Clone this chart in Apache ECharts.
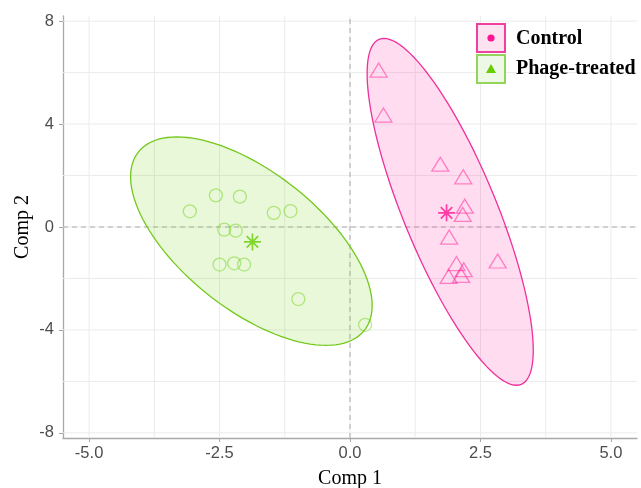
<!DOCTYPE html>
<html>
<head>
<meta charset="utf-8">
<script src="https://cdn.jsdelivr.net/npm/echarts@6/dist/echarts.min.js"></script>
<style>
    html, body { margin: 0; padding: 0; background: #fff; }
    #chart { width: 641px; height: 488px; }
</style>
</head>
<body>
<div id="chart"></div>
<script>
// values
const controlX = [1.73, 2.17, 2.20, 2.16, 1.90, 2.04, 2.18, 1.89, 2.13, 2.83, 0.55, 0.64];
const controlY = [2.44, 1.95, 0.81, 0.49, -0.39, -1.42, -1.66, -1.92, -1.88, -1.32, 6.10, 4.35];
const phageX = [-3.07, -2.57, -2.11, -1.46, -1.14, -2.41, -2.19, -2.50, -2.22, -2.03, -0.99, 0.29];
const phageY = [0.61, 1.23, 1.18, 0.55, 0.62, -0.10, -0.14, -1.46, -1.41, -1.46, -2.80, -3.80];
const controlCentroid = [1.85, 0.55];
const phageCentroid = [-1.87, -0.58];
// ellipse: centre x, centre y, then two conjugate half-diameters (ux, uy) (vx, vy)
const controlEllipse = [1.92, 0.59, -1.27, 6.74, 0.96, 0];
const phageEllipse = [-1.89, -0.55, -1.43, 4.05, 1.82, 0];

const xTicks = [-5, -2.5, 0, 2.5, 5];
const xMinor = [-3.75, -1.25, 1.25, 3.75];
const yTicks = [-8, -4, 0, 4, 8];
const yMinor = [-6, -2, 2, 6];

const xMin = -5.5, xMax = 5.5, yMin = -8.2, yMax = 8.2;

const pink = '#ff1493';
const green = '#66cd00';

function zip(xs, ys) {
    return xs.map(function (x, i) { return [x, ys[i]]; });
}

// vertical / horizontal rules through the axes' scales
function vLine(color, dash) {
    return function (params, api) {
        let a = api.coord([api.value(0), yMin]);
        let b = api.coord([api.value(0), yMax]);
        return { type: 'line', shape: { x1: a[0], y1: a[1], x2: b[0], y2: b[1] },
            style: { stroke: color, lineWidth: 1, lineDash: dash } };
    };
}
function hLine(color, dash) {
    return function (params, api) {
        let a = api.coord([xMin, api.value(1)]);
        let b = api.coord([xMax, api.value(1)]);
        return { type: 'line', shape: { x1: a[0], y1: a[1], x2: b[0], y2: b[1] },
            style: { stroke: color, lineWidth: 1, lineDash: dash } };
    };
}

function ellipse(e, stroke, fill) {
    return function (params, api) {
        let pts = [];
        for (let i = 0; i < 120; i++) {
            let t = i / 120 * Math.PI * 2;
            pts.push(api.coord([
                e[0] + e[2] * Math.cos(t) + e[4] * Math.sin(t),
                e[1] + e[3] * Math.cos(t) + e[5] * Math.sin(t)
            ]));
        }
        return { type: 'polygon', shape: { points: pts },
            style: { fill: fill, stroke: stroke, lineWidth: 1.3 } };
    };
}

const star = 'path://M8,0L8,16M0,8L16,8M2.6,2.6L13.4,13.4M2.6,13.4L13.4,2.6';
const axisGray = '#a8a8a8';
const gridGray = '#ebebeb';

let myChart = echarts.init(document.getElementById('chart'));
myChart.setOption({
    animation: false,
    grid: { left: 63, right: 4, top: 16, bottom: 50, containLabel: false, outerBoundsMode: 'none' },
    xAxis: {
        type: 'value', min: xMin, max: xMax,
        name: 'Comp 1', nameLocation: 'middle', nameGap: 31, nameMoveOverlap: false,
        nameTextStyle: { fontFamily: 'Liberation Serif', fontSize: 20, color: '#000' },
        axisLine: { onZero: false, lineStyle: { color: axisGray, width: 1.3 } },
        axisTick: { customValues: xTicks, length: 4, lineStyle: { color: axisGray } },
        axisLabel: { customValues: xTicks, color: '#4d4d4d', fontSize: 16.5, fontFamily: 'Liberation Sans', margin: 7,
            formatter: function (v) { return v.toFixed(1); } },
        splitLine: { show: false }
    },
    yAxis: {
        type: 'value', min: yMin, max: yMax,
        name: 'Comp 2', nameLocation: 'middle', nameGap: 30, nameMoveOverlap: false,
        nameTextStyle: { fontFamily: 'Liberation Serif', fontSize: 20, color: '#000' },
        axisLine: { onZero: false, lineStyle: { color: axisGray, width: 1.3 } },
        axisTick: { customValues: yTicks, length: 4, lineStyle: { color: axisGray } },
        axisLabel: { customValues: yTicks, color: '#4d4d4d', fontSize: 16.5, fontFamily: 'Liberation Sans', margin: 9 },
        splitLine: { show: false }
    },
    series: [
        { type: 'custom', z: 1, silent: true, data: xTicks.concat(xMinor).map(function (v) { return [v, 0]; }),
          renderItem: vLine(gridGray, null) },
        { type: 'custom', z: 1, silent: true, data: yTicks.concat(yMinor).map(function (v) { return [0, v]; }),
          renderItem: hLine(gridGray, null) },
        { type: 'custom', z: 2, silent: true, data: [[0, 0]], renderItem: vLine('#ababab', [5, 4]) },
        { type: 'custom', z: 2, silent: true, data: [[0, 0]], renderItem: hLine('#ababab', [5, 4]) },
        { type: 'custom', z: 3, silent: true, data: [[controlEllipse[0], controlEllipse[1]]],
          renderItem: ellipse(controlEllipse, '#f0309a', 'rgba(255,20,147,0.15)') },
        { type: 'custom', z: 3, silent: true, data: [[phageEllipse[0], phageEllipse[1]]],
          renderItem: ellipse(phageEllipse, '#74c81c', 'rgba(102,205,0,0.15)') },
        { name: 'Control', type: 'scatter', z: 4, symbol: 'triangle', symbolSize: [17, 14],
          data: zip(controlX, controlY),
          itemStyle: { color: 'transparent', borderColor: 'rgba(255,20,147,0.6)', borderWidth: 1.3 } },
        { name: 'Phage-treated', type: 'scatter', z: 4, symbol: 'circle', symbolSize: 13,
          data: zip(phageX, phageY),
          itemStyle: { color: 'transparent', borderColor: 'rgba(102,205,0,0.55)', borderWidth: 1.3 } },
        { type: 'scatter', z: 5, symbol: star, symbolSize: 17, data: [controlCentroid],
          itemStyle: { color: 'transparent', borderColor: pink, borderWidth: 1.7 } },
        { type: 'scatter', z: 5, symbol: star, symbolSize: 17, data: [phageCentroid],
          itemStyle: { color: 'transparent', borderColor: green, borderWidth: 1.7 } }
    ],
    graphic: [
        { type: 'rect', shape: { x: 477, y: 24, width: 28, height: 28 },
          style: { fill: '#fde2ef', stroke: '#f0409f', lineWidth: 2 }, z: 10 },
        { type: 'circle', shape: { cx: 491, cy: 38, r: 3.6 }, style: { fill: pink }, z: 11 },
        { type: 'rect', shape: { x: 477, y: 55, width: 28, height: 28 },
          style: { fill: '#eef8e6', stroke: '#92d55a', lineWidth: 2 }, z: 10 },
        { type: 'polygon', shape: { points: [[491, 64], [496, 73], [486, 73]] }, style: { fill: green }, z: 11 },
        { type: 'text', x: 516, y: 39, z: 11,
          style: { text: 'Control', font: 'bold 20px "Liberation Serif"', fill: '#000', verticalAlign: 'middle' } },
        { type: 'text', x: 516, y: 69, z: 11,
          style: { text: 'Phage-treated', font: 'bold 20px "Liberation Serif"', fill: '#000', verticalAlign: 'middle' } }
    ]
});
</script>
</body>
</html>
